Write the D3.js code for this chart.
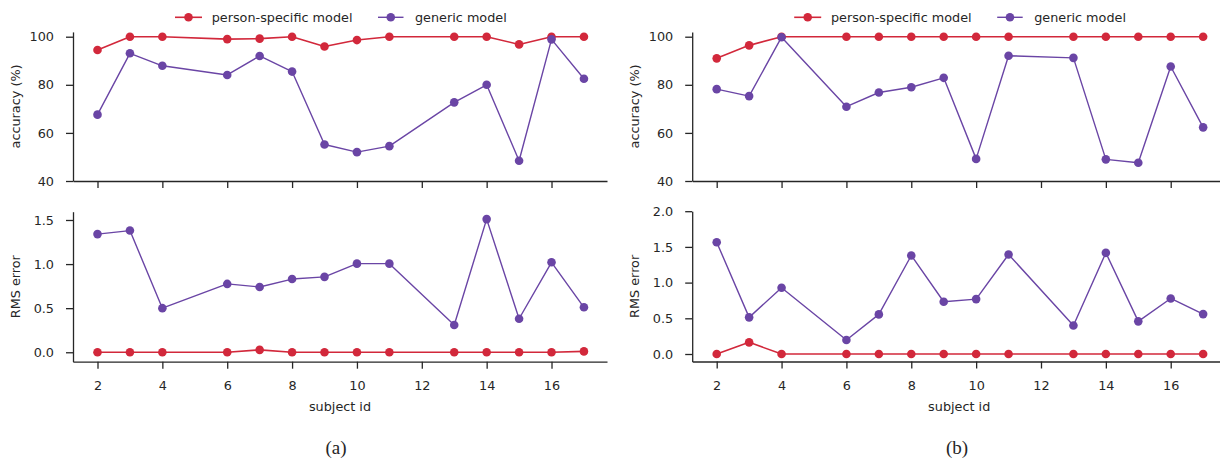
<!DOCTYPE html>
<html>
<head>
<meta charset="utf-8">
<script src="https://cdn.jsdelivr.net/npm/d3@7"></script>
<style>
  html, body { margin: 0; padding: 0; background: #fff; }
  svg { display: block; }
  text { font-family: "DejaVu Sans", sans-serif; fill: #262626; }
</style>
</head>
<body>
<svg id="chart" width="1220" height="461"></svg>
<script>
// ---------- data ----------
const subjects = [2, 3, 4, 6, 7, 8, 9, 10, 11, 13, 14, 15, 16, 17];
const seriesNames = ["person-specific model", "generic model"];
const xTicks = [2, 4, 6, 8, 10, 12, 14, 16];
const accTicks = [40, 60, 80, 100];
const rmsTicksA = [0.0, 0.5, 1.0, 1.5];
const rmsTicksB = [0.0, 0.5, 1.0, 1.5, 2.0];
const captions = ["(a)", "(b)"];

// panel (a)
const accPersonA = [94.5, 100, 100, 99.0, 99.2, 100, 95.9, 98.6, 100, 100, 100, 96.8, 100, 100];
const accGenericA = [67.6, 93.1, 87.9, 84.1, 92.0, 85.5, 55.2, 52.0, 54.5, 72.7, 80.0, 48.4, 98.9, 82.5];
const rmsPersonA = [0, 0, 0, 0, 0.027, 0, 0, 0, 0, 0, 0, 0, 0, 0.01];
const rmsGenericA = [1.34, 1.38, 0.50, 0.775, 0.74, 0.83, 0.855, 1.005, 1.005, 0.31, 1.51, 0.38, 1.02, 0.51];

// panel (b)
const accPersonB = [91.0, 96.4, 100, 100, 100, 100, 100, 100, 100, 100, 100, 100, 100, 100];
const accGenericB = [78.2, 75.3, 99.8, 70.9, 76.8, 79.0, 82.9, 49.2, 92.1, 91.2, 49.0, 47.6, 87.6, 62.3];
const rmsPersonB = [0, 0.163, 0, 0, 0, 0, 0, 0, 0, 0, 0, 0, 0, 0];
const rmsGenericB = [1.566, 0.513, 0.928, 0.196, 0.555, 1.38, 0.732, 0.769, 1.394, 0.40, 1.417, 0.457, 0.778, 0.559];

// ---------- style ----------
const colors = ["#d2283b", "#6a45a5"];
const fontSize = 12.8;

const svg = d3.select("#chart");

function drawPanel(offsetX, yDomain, yRange, yTicks, yFmt, yLabel, showXLabels, person, generic) {
  const g = svg.append("g").attr("transform", `translate(${offsetX},0)`);
  const x = d3.scaleLinear().domain([1.2445, 17.711]).range([73, 607]);
  const y = d3.scaleLinear().domain(yDomain).range(yRange);
  const yBottom = yRange[0];

  // y axis
  const ya = g.append("g").attr("transform", "translate(73,0)")
    .call(d3.axisLeft(y).tickValues(yTicks).tickFormat(yFmt).tickSize(7).tickSizeOuter(0).tickPadding(12));
  // x axis
  const xa = g.append("g").attr("transform", `translate(0,${yBottom})`)
    .call(d3.axisBottom(x).tickValues(xTicks).tickFormat(showXLabels ? d3.format("d") : () => "")
      .tickSize(7).tickSizeOuter(0).tickPadding(12));
  [ya, xa].forEach(a => {
    a.select(".domain").attr("stroke", "#262626").attr("stroke-width", 1.3);
    a.selectAll(".tick line").attr("stroke", "#262626").attr("stroke-width", 1.3);
    a.selectAll(".tick text").attr("font-size", fontSize).attr("font-family", "DejaVu Sans").attr("fill", "#333");
  });

  // y label
  const yMid = (yRange[0] + yRange[1]) / 2;
  g.append("text")
    .attr("transform", `translate(15,${yMid}) rotate(-90)`)
    .attr("text-anchor", "middle").attr("dominant-baseline", "central")
    .attr("font-size", fontSize).attr("fill", "#333").text(yLabel);

  const line = d3.line().x((d, i) => x(subjects[i])).y(d => y(d));
  [person, generic].forEach((vals, k) => {
    g.append("path").datum(vals).attr("d", line)
      .attr("fill", "none").attr("stroke", colors[k])
      .attr("stroke-width", k === 0 ? 1.6 : 1.4).attr("stroke-linejoin", "round");
    g.selectAll(null).data(vals).enter().append("circle")
      .attr("cx", (d, i) => x(subjects[i])).attr("cy", d => y(d))
      .attr("r", 4.3).attr("fill", colors[k]);
  });
  return { g, x };
}

function drawLegend(offsetX) {
  const g = svg.append("g").attr("transform", `translate(${offsetX},0)`);
  const items = [
    { x0: 175, x1: 202, tx: 211.7 },
    { x0: 378, x1: 403.5, tx: 415 }
  ];
  items.forEach((it, k) => {
    g.append("line").attr("x1", it.x0).attr("x2", it.x1).attr("y1", 17.3).attr("y2", 17.3)
      .attr("stroke", colors[k]).attr("stroke-width", k === 0 ? 1.6 : 1.4);
    g.append("circle").attr("cx", (it.x0 + it.x1) / 2).attr("cy", 17.3).attr("r", 4.3).attr("fill", colors[k]);
    g.append("text").attr("x", it.tx).attr("y", 17.3).attr("dominant-baseline", "central")
      .attr("font-size", fontSize).attr("fill", "#333").text(seriesNames[k]);
  });
}

const dx = 619.2;
const panels = [
  { off: 0, accP: accPersonA, accG: accGenericA, rmsP: rmsPersonA, rmsG: rmsGenericA,
    rmsDomain: [-0.107, 1.594], rmsRange: [361.7, 211.7], rmsTicks: rmsTicksA },
  { off: dx, accP: accPersonB, accG: accGenericB, rmsP: rmsPersonB, rmsG: rmsGenericB,
    rmsDomain: [-0.105, 2.0], rmsRange: [361.5, 211.2], rmsTicks: rmsTicksB }
];

panels.forEach((p, i) => {
  drawPanel(p.off, [40, 102], [181, 31.9], accTicks, d3.format("d"), "accuracy (%)", false, p.accP, p.accG);
  const bottom = drawPanel(p.off, p.rmsDomain, p.rmsRange, p.rmsTicks, d3.format(".1f"), "RMS error", true, p.rmsP, p.rmsG);
  bottom.g.append("text").attr("x", 340).attr("y", 406.5)
    .attr("text-anchor", "middle").attr("dominant-baseline", "central")
    .attr("font-size", fontSize).attr("fill", "#333").text("subject id");
  drawLegend(p.off);
  svg.append("text").attr("x", [336, 957][i]).attr("y", 447)
    .attr("text-anchor", "middle").attr("dominant-baseline", "central")
    .style("font-family", "'Liberation Serif', serif").attr("font-size", 19).attr("fill", "#111")
    .text(captions[i]);
});
</script>
</body>
</html>
